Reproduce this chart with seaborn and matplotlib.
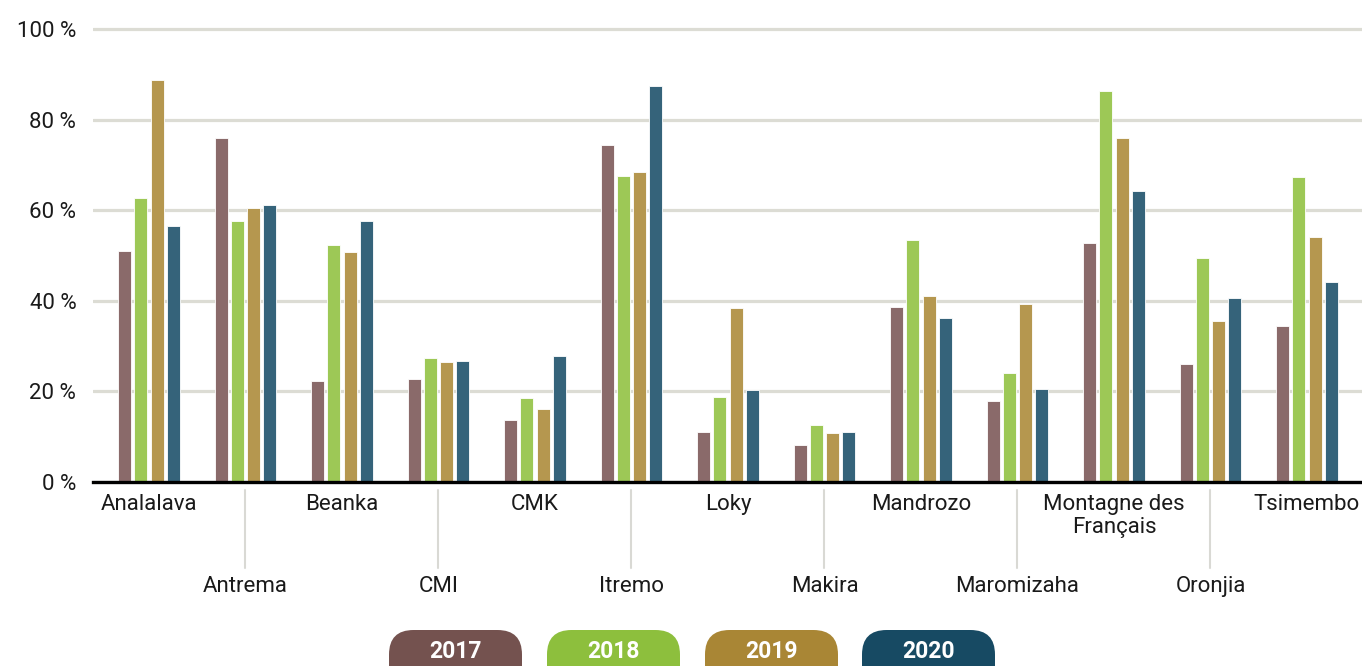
import matplotlib
matplotlib.use("Agg")
import matplotlib.pyplot as plt
import matplotlib.transforms as mtransforms
from matplotlib.patches import FancyBboxPatch
import seaborn as sns
import pandas as pd

sites = ["Analalava", "Antrema", "Beanka", "CMI", "CMK", "Itremo", "Loky",
         "Makira", "Mandrozo", "Maromizaha", "Montagne des\nFrançais", "Oronjia", "Tsimembo"]
years = ["2017", "2018", "2019", "2020"]
v2017 = [51.0, 75.9, 22.3, 22.7, 13.7, 74.4, 11.0, 8.2, 38.6, 17.9, 52.8, 26.0, 34.4]
v2018 = [62.7, 57.6, 52.3, 27.4, 18.5, 67.5, 18.8, 12.6, 53.4, 24.0, 86.3, 49.4, 67.4]
v2019 = [88.7, 60.5, 50.8, 26.5, 16.1, 68.4, 38.4, 10.8, 41.1, 39.2, 75.9, 35.5, 54.1]
v2020 = [56.5, 61.1, 57.6, 26.7, 27.8, 87.4, 20.3, 11.0, 36.2, 20.6, 64.2, 40.6, 44.1]
yticks = [0, 20, 40, 60, 80, 100]
ytick_labels = ["0 %", "20 %", "40 %", "60 %", "80 %", "100 %"]

bar_colors = ["#8a6a6a", "#9dc856", "#b5974f", "#35637a"]
legend_colors = ["#74524f", "#8dbf3d", "#a98635", "#174a63"]

rows = []
for yr, vals in zip(years, [v2017, v2018, v2019, v2020]):
    for s, v in zip(sites, vals):
        rows.append({"site": s, "year": yr, "value": v})
df = pd.DataFrame(rows)

sns.set_theme(style="white")
plt.rcParams["font.family"] = ["Roboto", "DejaVu Sans"]

W, H = 1362, 666
fig = plt.figure(figsize=(W / 100, H / 100), dpi=100)
ax_left_px, ax_right_px = 93, 1362
y0_px = 482
px_per = 4.53
ymax = 102
top_px = y0_px - ymax * px_per
ax = fig.add_axes([ax_left_px / W, 1 - y0_px / H, (ax_right_px - ax_left_px) / W, (y0_px - top_px) / H])

sns.barplot(data=df, x="site", y="value", hue="year", palette=bar_colors, saturation=1,
            width=0.67, gap=0.2, ax=ax, legend=False, edgecolor="white", linewidth=0.6)

ax.set_ylim(0, ymax)
ax.set_xlim(-0.58, 12.57)
ax.set_yticks(yticks)
ax.set_yticklabels(ytick_labels, fontsize=16, color="#1a1a1a")
ax.tick_params(axis="y", length=0, pad=12)
ax.set_xticks([])
ax.set_xlabel("")
ax.set_ylabel("")
ax.yaxis.grid(True, color="#dcdcd4", linewidth=2.3)
ax.set_axisbelow(True)
for sp in ["top", "right", "left"]:
    ax.spines[sp].set_visible(False)
ax.spines["bottom"].set_color("black")
ax.spines["bottom"].set_linewidth(2.4)
ax.spines["bottom"].set_zorder(5)

ax_h_px = y0_px - top_px
trans = mtransforms.blended_transform_factory(ax.transData, ax.transAxes)
for i, s in enumerate(sites):
    if i % 2 == 0:
        ax.text(i, -12 / ax_h_px, s, transform=trans, ha="center", va="top",
                fontsize=16, color="#1a1a1a", linespacing=1.15, clip_on=False)
    else:
        ax.text(i, -94 / ax_h_px, s, transform=trans, ha="center", va="top",
                fontsize=16, color="#1a1a1a", clip_on=False)
        ax.plot([i, i], [-8 / ax_h_px, -86 / ax_h_px], transform=trans,
                color="#d9d9d4", linewidth=1.5, clip_on=False)

# legend boxes
box_x = [389, 547, 705, 862]
box_w = 133
box_top = 630
for x, c, yr in zip(box_x, legend_colors, years):
    p = FancyBboxPatch((x / W, 1 - (box_top + 60) / H), box_w / W, 60 / H,
                       boxstyle="round,pad=0,rounding_size=0.018",
                       transform=fig.transFigure, facecolor=c, edgecolor="none",
                       mutation_aspect=W / H)
    fig.patches.append(p)
    fig.text((x + box_w / 2) / W, 1 - 652 / H, yr, ha="center", va="center",
             color="white", fontsize=16.5, fontweight="bold")

fig.savefig("out.png", dpi=100)
